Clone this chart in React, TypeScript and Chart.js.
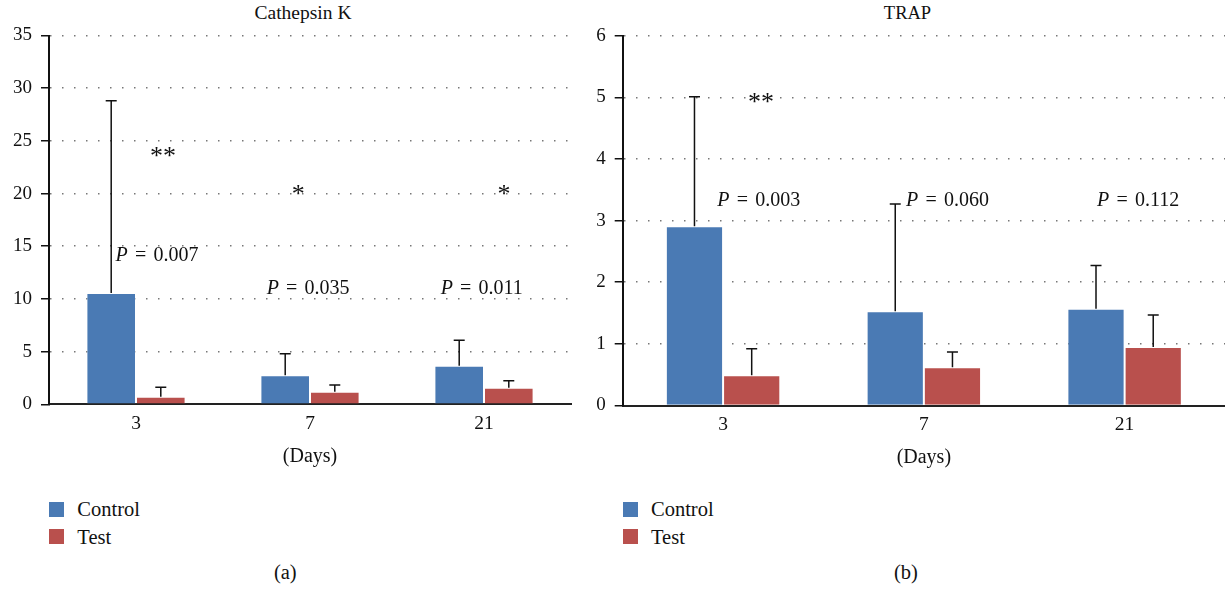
import React, { useEffect, useRef } from 'react';
import { Chart, registerables } from 'chart.js';

Chart.register(...registerables);

const FONT = '"Liberation Serif", "Times New Roman", serif';
const BLUE = '#4A7AB4';
const RED = '#B9504D';

// ---- data ----
const days = ['3', '7', '21'];

const catkControl = [10.57, 2.75, 3.67];
const catkControlSD = [18.23, 2.05, 2.41];
const catkTest = [0.72, 1.2, 1.58];
const catkTestSD = [0.89, 0.63, 0.66];
const catkPValues = ['0.007', '0.035', '0.011'];
const catkStars = ['**', '*', '*'];
const catkTicks = [0, 5, 10, 15, 20, 25, 30, 35];

const trapControl = [2.91, 1.53, 1.57];
const trapControlSD = [2.1, 1.74, 0.7];
const trapTest = [0.49, 0.62, 0.95];
const trapTestSD = [0.43, 0.25, 0.52];
const trapPValues = ['0.003', '0.060', '0.112'];
const trapStars = ['**', '', ''];
const trapTicks = [0, 1, 2, 3, 4, 5, 6];

// ---- annotation placement (category offset, value) ----
const catkPPos = { dx: [0.121, -0.011, -0.013], y: [14.08, 11.0, 11.0] };
const catkStarPos = { dx: [0.155, -0.067, 0.115], y: [24.0, 20.4, 20.4] };
const trapPPos = { dx: [0.178, 0.118, 0.067], y: [3.33, 3.33, 3.33] };
const trapStarPos = { dx: [0.189, 0, 0], y: [4.99, 0, 0] };

type PanelDef = {
  control: number[];
  controlSD: number[];
  test: number[];
  testSD: number[];
  pValues: string[];
  stars: string[];
  ticks: number[];
  pPos: { dx: number[]; y: number[] };
  starPos: { dx: number[]; y: number[] };
  yWidth: number;
  padding: { top: number; right: number; bottom: number; left: number };
};

function errorBarPlugin(sds: number[][]) {
  return {
    id: 'errorBars',
    afterDatasetsDraw(chart: any) {
      const ctx = chart.ctx as CanvasRenderingContext2D;
      const ys = chart.scales.y;
      chart.data.datasets.forEach((ds: any, di: number) => {
        const meta = chart.getDatasetMeta(di);
        meta.data.forEach((bar: any, i: number) => {
          const v = ds.data[i] as number;
          const top = ys.getPixelForValue(v + sds[di][i]);
          ctx.save();
          ctx.strokeStyle = '#111';
          ctx.lineWidth = 1.5;
          ctx.beginPath();
          ctx.moveTo(bar.x, bar.y);
          ctx.lineTo(bar.x, top);
          ctx.moveTo(bar.x - 5.5, top);
          ctx.lineTo(bar.x + 5.5, top);
          ctx.stroke();
          ctx.restore();
        });
      });
    },
  };
}

function annotationPlugin(def: PanelDef) {
  return {
    id: 'annotations',
    afterDraw(chart: any) {
      const ctx = chart.ctx as CanvasRenderingContext2D;
      const xs = chart.scales.x;
      const ys = chart.scales.y;
      const fs = 20;
      ctx.save();
      ctx.fillStyle = '#111';
      ctx.textBaseline = 'middle';
      ctx.textAlign = 'left';
      def.pValues.forEach((p, i) => {
        const cx = xs.getPixelForValue(i + def.pPos.dx[i]);
        const cy = ys.getPixelForValue(def.pPos.y[i]);
        const gap = fs * 0.36;
        ctx.font = `italic ${fs}px ${FONT}`;
        const wP = ctx.measureText('P').width;
        ctx.font = `${fs}px ${FONT}`;
        const wEq = ctx.measureText('=').width;
        const wN = ctx.measureText(p).width;
        const total = wP + gap + wEq + gap + wN;
        let x = cx - total / 2;
        ctx.font = `italic ${fs}px ${FONT}`;
        ctx.fillText('P', x, cy);
        x += wP + gap;
        ctx.font = `${fs}px ${FONT}`;
        ctx.fillText('=', x, cy);
        x += wEq + gap;
        ctx.fillText(p, x, cy);
      });
      const sfs = 26;
      ctx.textAlign = 'center';
      ctx.textBaseline = 'alphabetic';
      ctx.font = `${sfs}px ${FONT}`;
      def.stars.forEach((s, i) => {
        if (!s) return;
        const cx = xs.getPixelForValue(i + def.starPos.dx[i]);
        const cy = ys.getPixelForValue(def.starPos.y[i]);
        ctx.fillText(s, cx, cy + sfs * 0.47);
      });
      ctx.restore();
    },
  };
}

function BarPanel({ def, left, width, height }: { def: PanelDef; left: number; width: number; height: number }) {
  const ref = useRef<HTMLCanvasElement | null>(null);
  useEffect(() => {
    if (!ref.current) return;
    const yMax = def.ticks[def.ticks.length - 1];
    const chart = new Chart(ref.current, {
      type: 'bar',
      data: {
        labels: days,
        datasets: [
          {
            label: 'Control',
            data: def.control,
            backgroundColor: BLUE,
            borderColor: 'rgba(255,255,255,0.3)',
            borderWidth: 1,
            categoryPercentage: 0.57,
            barPercentage: 1,
          },
          {
            label: 'Test',
            data: def.test,
            backgroundColor: RED,
            borderColor: 'rgba(255,255,255,0.3)',
            borderWidth: 1,
            categoryPercentage: 0.57,
            barPercentage: 1,
          },
        ],
      },
      options: {
        responsive: false,
        animation: false,
        events: [],
        layout: { padding: def.padding },
        plugins: {
          legend: { display: false },
          title: { display: false },
          tooltip: { enabled: false },
        },
        scales: {
          x: {
            grid: { display: false, drawTicks: false },
            border: { display: true, color: '#222', width: 2 },
            ticks: { color: '#111', padding: 8, font: { family: FONT, size: 19.5 } },
            title: {
              display: true,
              text: '(Days)',
              color: '#111',
              font: { family: FONT, size: 20 },
              padding: { top: 0, bottom: 5.3 },
            },
            afterFit: (s: any) => {
              s.height = 70;
            },
          },
          y: {
            min: 0,
            max: yMax,
            afterBuildTicks: (s: any) => {
              s.ticks = def.ticks.map((v) => ({ value: v }));
            },
            grid: {
              color: (c: any) => (c.tick && c.tick.value === 0 ? 'rgba(0,0,0,0)' : '#777'),
              lineWidth: 1.5,
              drawTicks: true,
              tickLength: 8,
              tickColor: '#111',
              tickWidth: 1.5,
              tickBorderDash: [],
            },
            border: { display: true, color: '#111', width: 2, dash: [1.5, 10.5] },
            ticks: { color: '#111', padding: 9, font: { family: FONT, size: 19 } },
            afterFit: (s: any) => {
              s.width = def.yWidth;
            },
          },
        },
      },
      plugins: [errorBarPlugin([def.controlSD, def.testSD]), annotationPlugin(def)],
    } as any);
    return () => chart.destroy();
  }, [def]);
  return (
    <canvas
      ref={ref}
      width={width}
      height={height}
      style={{ position: 'absolute', left, top: 0, width, height }}
    />
  );
}

const leftDef: PanelDef = {
  control: catkControl,
  controlSD: catkControlSD,
  test: catkTest,
  testSD: catkTestSD,
  pValues: catkPValues,
  stars: catkStars,
  ticks: catkTicks,
  pPos: catkPPos,
  starPos: catkStarPos,
  yWidth: 49,
  padding: { top: 35.5, right: 9, bottom: 5.7, left: 0 },
};

const rightDef: PanelDef = {
  control: trapControl,
  controlSD: trapControlSD,
  test: trapTest,
  testSD: trapTestSD,
  pValues: trapPValues,
  stars: trapStars,
  ticks: trapTicks,
  pPos: trapPPos,
  starPos: trapStarPos,
  yWidth: 42.7,
  padding: { top: 35.7, right: 0, bottom: 4.5, left: 0 },
};

const textBase: React.CSSProperties = {
  position: 'absolute',
  fontFamily: FONT,
  color: '#111',
  whiteSpace: 'nowrap',
};

function Legend({ left }: { left: number }) {
  return (
    <>
      <div style={{ position: 'absolute', left, top: 502, width: 15, height: 14.5, background: BLUE }} />
      <div style={{ ...textBase, left: left + 28.3, top: 499.3, fontSize: 20.5, lineHeight: '20px' }}>Control</div>
      <div style={{ position: 'absolute', left, top: 529.3, width: 15, height: 14.5, background: RED }} />
      <div style={{ ...textBase, left: left + 28.3, top: 526.5, fontSize: 20.5, lineHeight: '20px' }}>Test</div>
    </>
  );
}

export default function App() {
  return (
    <div style={{ position: 'absolute', left: 0, top: 0, width: 1225, height: 590, background: '#fff', overflow: 'hidden' }}>
      <div style={{ ...textBase, left: 203, width: 200, top: 3, textAlign: 'center', fontSize: 19.5, lineHeight: '20px' }}>
        Cathepsin K
      </div>
      <div style={{ ...textBase, left: 807.5, width: 200, top: 3, textAlign: 'center', fontSize: 18.5, lineHeight: '20px' }}>
        TRAP
      </div>
      <BarPanel def={leftDef} left={0} width={580} height={480} />
      <BarPanel def={rightDef} left={580} width={645} height={480} />
      <Legend left={49} />
      <Legend left={622.7} />
      <div style={{ ...textBase, left: 235.3, width: 100, top: 561.7, textAlign: 'center', fontSize: 20.5, lineHeight: '20px' }}>
        (a)
      </div>
      <div style={{ ...textBase, left: 856, width: 100, top: 561.7, textAlign: 'center', fontSize: 20.5, lineHeight: '20px' }}>
        (b)
      </div>
    </div>
  );
}
